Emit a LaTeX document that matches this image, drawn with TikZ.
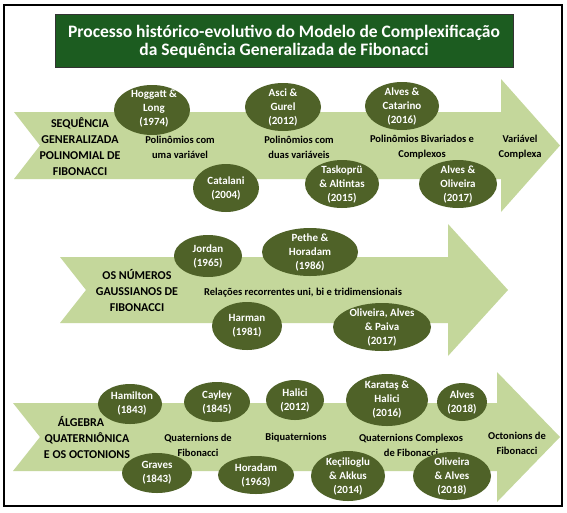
\documentclass[tikz,border=0pt]{standalone}
\usepackage{fontspec}
\setmainfont{Carlito}
\usetikzlibrary{shapes.geometric}
\definecolor{arrowgreen}{RGB}{196,215,155}
\definecolor{olivedark}{RGB}{79,98,40}
\definecolor{titlegreen}{RGB}{28,92,32}
\begin{document}
\begin{tikzpicture}[x=1pt,y=-1pt,
 arrowshape/.style={fill=arrowgreen, draw=none},
 eln/.style={ellipse, fill=olivedark, draw=none, inner sep=0pt},
 elt/.style={text=white, font=\bfseries\fontsize{11}{14}\selectfont, align=center, inner sep=0pt},
 sidelabel/.style={font=\bfseries\fontsize{12}{16}\selectfont, align=center, inner sep=0pt},
 midlabel/.style={font=\bfseries\fontsize{10.5}{15}\selectfont, align=center, inner sep=0pt},
]
\useasboundingbox (0,0) rectangle (567,512);
\fill[white] (0,0) rectangle (567,512);
\draw[line width=2.2pt] (4,5) rectangle (562,506);
% title
\node[draw=black!80, fill=titlegreen, minimum width=458, minimum height=53, inner sep=0pt, line width=0.8pt] (title) at (284,40.5) {};
\node[text=white, font=\bfseries\fontsize{17.5}{18}\selectfont, align=center, inner sep=0pt] (titletext) at (284,41.5) {Processo histórico-evolutivo do Modelo de Complexificação\\da Sequência Generalizada de Fibonacci};
% arrows
\fill[arrowshape] (14,112) -- (501,112) -- (501,79) -- (560,145.5) -- (501,212) -- (501,179) -- (14,179) -- (40,145.5) -- cycle;
\fill[arrowshape] (60,257) -- (448,257) -- (448,224) -- (508,290) -- (448,356) -- (448,323) -- (60,323) -- (86,290) -- cycle;
\fill[arrowshape] (13,403) -- (497,403) -- (497,372) -- (560,437) -- (497,502) -- (497,471) -- (13,471) -- (40,437) -- cycle;
% row 1
\node[sidelabel] (side1) at (80,147) {SEQUÊNCIA\\GENERALIZADA\\POLINOMIAL DE\\FIBONACCI};
\node[midlabel] (m1a) at (180,147) {Polinômios com\\uma variável};
\node[midlabel] (m1b) at (299,147) {Polinômios com\\duas variáveis};
\node[midlabel] (m1c) at (422,147) {Polinômios Bivariados e\\Complexos};
\node[midlabel] (m1d) at (520,147) {Variável\\Complexa};
\node[eln, minimum width=76, minimum height=50] (hog) at (152,110) {};
\node[elt] at (154,109) {Hoggatt \&\\Long\\(1974)};
\node[eln, minimum width=66, minimum height=48] (cat) at (226,188) {};
\node[elt] at (cat) {Catalani\\(2004)};
\node[eln, minimum width=76, minimum height=48] (asc) at (283,107) {};
\node[elt] at (asc) {Asci \&\\Gurel\\(2012)};
\node[eln, minimum width=74, minimum height=48] (tas) at (342,184) {};
\node[elt] at (tas) {Taskoprü\\\& Altintas\\(2015)};
\node[eln, minimum width=74, minimum height=48] (alc) at (402,106) {};
\node[elt] at (alc) {Alves \&\\Catarino\\(2016)};
\node[eln, minimum width=78, minimum height=48] (alo) at (458,184) {};
\node[elt] at (alo) {Alves \&\\Oliveira\\(2017)};
% row 2
\node[sidelabel] (side2) at (137,290) {OS NÚMEROS\\GAUSSIANOS DE\\FIBONACCI};
\node[midlabel] (m2) at (303,293) {Relações recorrentes uni, bi e tridimensionais};
\node[eln, minimum width=68, minimum height=42] (jor) at (208,256) {};
\node[elt] at (jor) {Jordan\\(1965)};
\node[eln, minimum width=96, minimum height=48] (pet) at (310,252) {};
\node[elt] at (pet) {Pethe \&\\Horadam\\(1986)};
\node[eln, minimum width=70, minimum height=48] (har) at (247,326) {};
\node[elt] at (har) {Harman\\(1981)};
\node[eln, minimum width=98, minimum height=48] (oap) at (382,327) {};
\node[elt] at (oap) {Oliveira, Alves\\\& Paiva\\(2017)};
% row 3
\node[sidelabel] (side3) at (87,437) {ÁLGEBRA\hspace*{12pt}\\QUATERNIÔNICA\\E OS OCTONIONS};
\node[midlabel] (m3a) at (198,445) {Quaternions de\\Fibonacci};
\node[midlabel] (m3b) at (296,438) {Biquaternions};
\node[midlabel] (m3c) at (411,445) {Quaternions Complexos\\de Fibonacci};
\node[midlabel] (m3d) at (517,443) {Octonions de\\Fibonacci};
\node[eln, minimum width=64, minimum height=40] (ham) at (130,404) {};
\node[elt] at (132,403) {Hamilton\\(1843)};
\node[eln, minimum width=66, minimum height=40] (cay) at (217,402) {};
\node[elt] at (cay) {Cayley\\(1845)};
\node[eln, minimum width=58, minimum height=40] (hal) at (295,400) {};
\node[elt] at (hal) {Halici\\(2012)};
\node[eln, minimum width=82, minimum height=52] (kar) at (387,400) {};
\node[elt] at (kar) {Karataş \&\\Halici\\(2016)};
\node[eln, minimum width=50, minimum height=38] (alv) at (462,402) {};
\node[elt] at (alv) {Alves\\(2018)};
\node[eln, minimum width=70, minimum height=40] (gra) at (157,473) {};
\node[elt] at (gra) {Graves\\(1843)};
\node[eln, minimum width=76, minimum height=38] (hor) at (256,475) {};
\node[elt] at (hor) {Horadam\\(1963)};
\node[eln, minimum width=74, minimum height=50] (kec) at (348,476) {};
\node[elt] at (kec) {Keçilioglu\\\& Akkus\\(2014)};
\node[eln, minimum width=78, minimum height=48] (oal) at (452,476) {};
\node[elt] at (oal) {Oliveira\\\& Alves\\(2018)};
\end{tikzpicture}
\end{document}
